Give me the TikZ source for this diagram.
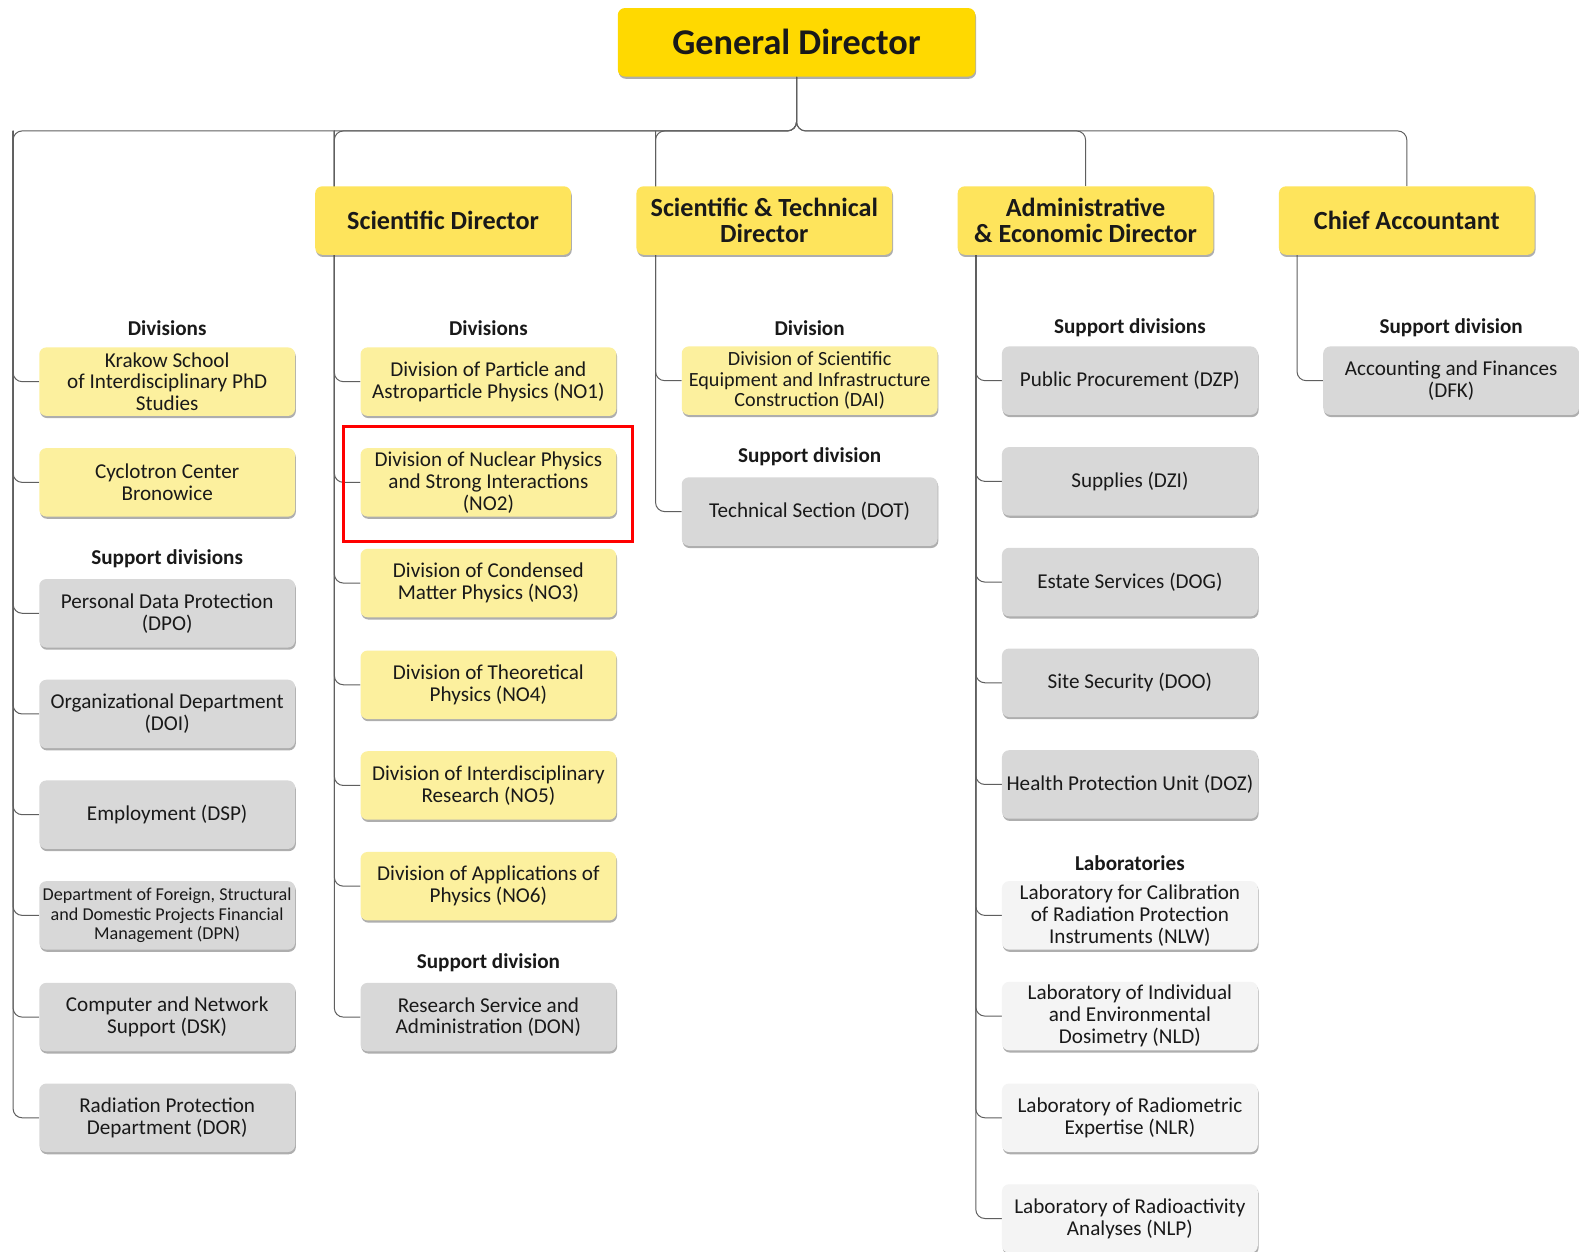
\documentclass[tikz,border=0pt]{standalone}
\usepackage{fontspec}
\setmainfont{Carlito}
\usetikzlibrary{calc}
\usetikzlibrary{shapes}
\usetikzlibrary{shadows}
\usetikzlibrary{backgrounds}

\definecolor{gdyellow}{RGB}{255,217,0}
\definecolor{diryellow}{RGB}{254,228,92}
\definecolor{divyellow}{RGB}{252,240,158}
\definecolor{supgray}{RGB}{216,216,216}
\definecolor{labgray}{RGB}{244,244,244}
\definecolor{linegray}{RGB}{95,95,95}
\definecolor{txt}{RGB}{25,25,25}

\tikzset{
  box/.style={rounded corners=7pt, minimum width=254pt, minimum height=68pt,
    align=center, inner sep=1pt, text=txt, font=\fontsize{21}{21.7}\selectfont,
    drop shadow={shadow xshift=0.8pt, shadow yshift=-2.2pt, fill=black!70, opacity=0.45}},
  divbox/.style={box, fill=divyellow},
  supbox/.style={box, fill=supgray},
  labbox/.style={box, fill=labgray},
  dirbox/.style={box, fill=diryellow, font=\bfseries\fontsize{26}{26}\selectfont},
  gdbox/.style={box, fill=gdyellow, minimum width=355pt, font=\bfseries\fontsize{36}{40}\selectfont},
  heading/.style={font=\bfseries\fontsize{21}{22}\selectfont, text=txt},
  conn/.style={draw=linegray, line width=1pt, rounded corners=9pt},
}

\begin{document}
\begin{tikzpicture}[x=1pt,y=-1pt]
        \useasboundingbox (0,0) rectangle (1568,1243);

        % directors
        \node[gdbox] (gd) at (791,42) {General Director};
        \node[dirbox] (sd) at (440,219) {Scientific Director};
        \node[dirbox] (st) at (759,219) {Scientific \& Technical\\Director};
        \node[dirbox] (ad) at (1078,219) {Administrative\\\& Economic Director};
        \node[dirbox] (ca) at (1397,219) {Chief Accountant};

        % general director's units
        \node[heading] (hA1) at (166,326) {Divisions};
        \node[divbox] (ksd) at (166,379) {Krakow School\\of Interdisciplinary PhD\\Studies};
        \node[divbox] (ccb) at (166,479) {Cyclotron Center\\Bronowice};
        \node[heading] (hA2) at (166,555) {Support divisions};
        \node[supbox] (dpo) at (166,609) {Personal Data Protection\\(DPO)};
        \node[supbox] (doi) at (166,709) {Organizational Department\\(DOI)};
        \node[supbox] (dsp) at (166,809) {Employment (DSP)};
        \node[supbox, font=\fontsize{18}{19}\selectfont] (dpn) at (166,909) {Department of Foreign, Structural\\and Domestic Projects Financial\\Management (DPN)};
        \node[supbox] (dsk) at (166,1010) {Computer and Network\\Support (DSK)};
        \node[supbox] (dor) at (166,1110) {Radiation Protection\\Department (DOR)};

        % scientific director
        \node[heading] (hB1) at (485,326) {Divisions};
        \node[divbox] (no1) at (485,379) {Division of Particle and\\Astroparticle Physics (NO1)};
        \node[divbox] (no2) at (485,479) {Division of Nuclear Physics\\and Strong Interactions\\(NO2)};
        \node[divbox] (no3) at (485,579) {Division of Condensed\\Matter Physics (NO3)};
        \node[divbox] (no4) at (485,680) {Division of Theoretical\\Physics (NO4)};
        \node[divbox] (no5) at (485,780) {Division of Interdisciplinary\\Research (NO5)};
        \node[divbox] (no6) at (485,880) {Division of Applications of\\Physics (NO6)};
        \node[heading] (hB2) at (485,956) {Support division};
        \node[supbox] (don) at (485,1010) {Research Service and\\Administration (DON)};
        \draw[red, line width=3pt] (341,424) rectangle (628,538);

        % scientific & technical director
        \node[heading] (hC1) at (804,326) {Division};
        \node[divbox, font=\fontsize{20}{20.5}\selectfont] (dai) at (804,378) {Division of Scientific\\Equipment and Infrastructure\\Construction (DAI)};
        \node[heading] (hC2) at (804,454) {Support division};
        \node[supbox] (dot) at (804,508) {Technical Section (DOT)};

        % administrative & economic director
        \node[heading] (hD1) at (1122,325) {Support divisions};
        \node[supbox] (dzp) at (1122,378) {Public Procurement (DZP)};
        \node[supbox] (dzi) at (1122,478) {Supplies (DZI)};
        \node[supbox] (dog) at (1122,578) {Estate Services (DOG)};
        \node[supbox] (doo) at (1122,678) {Site Security (DOO)};
        \node[supbox] (doz) at (1122,779) {Health Protection Unit (DOZ)};
        \node[heading] (hD2) at (1122,857) {Laboratories};
        \node[labbox] (nlw) at (1122,909) {Laboratory for Calibration\\of Radiation Protection\\Instruments (NLW)};
        \node[labbox] (nld) at (1122,1009) {Laboratory of Individual\\and Environmental\\Dosimetry (NLD)};
        \node[labbox] (nlr) at (1122,1110) {Laboratory of Radiometric\\Expertise (NLR)};
        \node[labbox] (nlp) at (1122,1210) {Laboratory of Radioactivity\\Analyses (NLP)};

        % chief accountant
        \node[heading] (hE1) at (1441,325) {Support division};
        \node[supbox] (dfk) at (1441,378) {Accounting and Finances\\(DFK)};

        \begin{scope}[on background layer]
        \fill[white] (0,0) rectangle (1568,1243);
        \coordinate (bus) at (791,130);
        \coordinate (ta) at (13,130);
        \coordinate (tb) at (332,130);
        \coordinate (tc) at (651,130);
        \coordinate (te) at (969,253);
        \coordinate (tf) at (1288,253);
        \draw[conn] (gd.south) -- (bus) -- (ta) |- (dor.west);
        \foreach \n in {ksd,ccb,dpo,doi,dsp,dpn,dsk}
            \draw[conn] (ta) |- (\n.west);
        \draw[conn] (gd.south) -- (bus) -- (tb) |- (don.west);
        \foreach \n in {no1,no2,no3,no4,no5,no6}
            \draw[conn] (tb) |- (\n.west);
        \draw[conn] (gd.south) -- (bus) -- (tc) |- (dot.west);
        \draw[conn] (tc) |- (dai.west);
        \draw[conn] (gd.south) -- (bus) -| (ad.north);
        \draw[conn] (te) |- (nlp.west);
        \foreach \n in {dzp,dzi,dog,doo,doz,nlw,nld,nlr}
            \draw[conn] (te) |- (\n.west);
        \draw[conn] (gd.south) -- (bus) -| (ca.north);
        \draw[conn] (tf) |- (dfk.west);
        \end{scope}
    \end{tikzpicture}
\end{document}
